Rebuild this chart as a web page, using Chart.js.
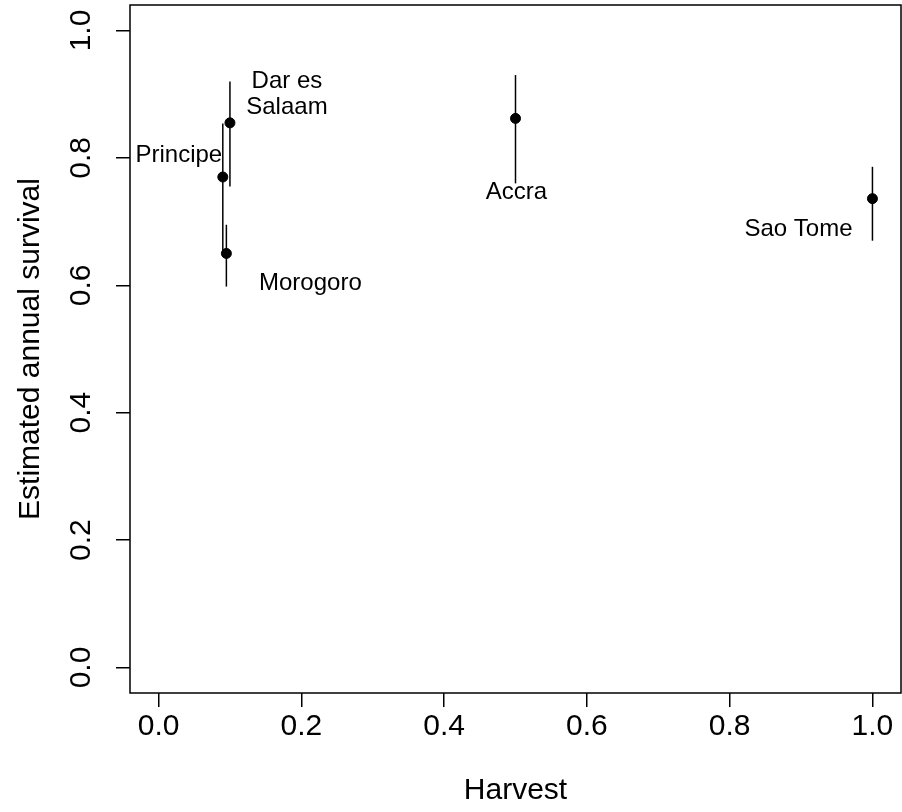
<!DOCTYPE html>
<html>
<head>
<meta charset="utf-8">
<script src="https://cdn.jsdelivr.net/npm/chart.js@4"></script>
<style>
  html, body { margin: 0; padding: 0; background: #fff; }
  canvas { display: block; }
</style>
</head>
<body>
<canvas id="chart" width="902" height="812"></canvas>
<script>
// sites, harvest level, survival estimate and its interval
const sites = ["Dar es Salaam", "Principe", "Morogoro", "Accra", "Sao Tome"];
const harvest = [0.1, 0.09, 0.095, 0.5, 1.0];
const survival = [0.855, 0.77, 0.65, 0.862, 0.736];
const lower = [0.755, 0.645, 0.598, 0.76, 0.67];
const upper = [0.92, 0.854, 0.695, 0.93, 0.786];

const xTicks = [0, 0.2, 0.4, 0.6, 0.8, 1.0];
const yTicks = [0, 0.2, 0.4, 0.6, 0.8, 1.0];

const FONT = "'Liberation Sans', Arial, Helvetica, sans-serif";

// label offsets from each point (px), one entry per line of text
const labelPos = {
    "Dar es Salaam": [{ t: "Dar es", dx: 57, dy: -41 }, { t: "Salaam", dx: 57, dy: -15 }],
    "Principe": [{ t: "Principe", dx: -44, dy: -22 }],
    "Morogoro": [{ t: "Morogoro", dx: 84, dy: 30 }],
    "Accra": [{ t: "Accra", dx: 1, dy: 74 }],
    "Sao Tome": [{ t: "Sao Tome", dx: -74, dy: 31 }],
};

const rPlot = {
    id: "rPlot",
    beforeDatasetsDraw(chart) {
        const { ctx, scales: { x, y } } = chart;
        ctx.save();
        ctx.strokeStyle = "#000";
        ctx.lineWidth = 1.5;
        // error bars
        harvest.forEach((h, i) => {
            const px = x.getPixelForValue(h);
            ctx.beginPath();
            ctx.moveTo(px, y.getPixelForValue(lower[i]));
            ctx.lineTo(px, y.getPixelForValue(upper[i]));
            ctx.stroke();
        });
        ctx.restore();
    },
    afterDraw(chart) {
        const { ctx, chartArea: a, scales: { x, y } } = chart;
        ctx.save();
        // box
        ctx.strokeStyle = "#000";
        ctx.lineWidth = 1.5;
        ctx.strokeRect(a.left, a.top, a.right - a.left, a.bottom - a.top);

        // y tick labels, rotated like R's default
        ctx.fillStyle = "#000";
        ctx.font = "30px " + FONT;
        ctx.textAlign = "center";
        ctx.textBaseline = "middle";
        yTicks.forEach(v => {
            ctx.save();
            ctx.translate(82, y.getPixelForValue(v));
            ctx.rotate(-Math.PI / 2);
            ctx.fillText(v.toFixed(1), 0, 0);
            ctx.restore();
        });

        // site labels
        ctx.font = "24px " + FONT;
        sites.forEach((s, i) => {
            const px = x.getPixelForValue(harvest[i]);
            const py = y.getPixelForValue(survival[i]);
            labelPos[s].forEach(l => ctx.fillText(l.t, px + l.dx, py + l.dy));
        });
        ctx.restore();
    },
};

const chart = new Chart(document.getElementById("chart"), {
    type: "scatter",
    data: {
        datasets: [{
            data: harvest.map((h, i) => ({ x: h, y: survival[i] })),
            backgroundColor: "#000",
            borderColor: "#000",
            pointRadius: 5,
            pointHoverRadius: 5,
        }],
    },
    options: {
        responsive: false,
        animation: false,
        layout: { padding: { top: 5, right: 1, left: 0, bottom: 0 } },
        plugins: { legend: { display: false }, tooltip: { enabled: false } },
        scales: {
            x: {
                type: "linear",
                min: -0.04,
                max: 1.04,
                afterBuildTicks: s => { s.ticks = xTicks.map(v => ({ value: v })); },
                afterFit: s => { s.height = 119; s.paddingLeft = 0; s.paddingRight = 0; },
                border: { display: false },
                grid: { drawOnChartArea: false, drawTicks: true, tickLength: 14, color: "#000", lineWidth: 1.5 },
                ticks: {
                    color: "#000",
                    padding: 2,
                    maxRotation: 0,
                    font: { family: FONT, size: 30 },
                    callback: v => v.toFixed(1),
                },
                title: {
                    display: true,
                    text: "Harvest",
                    color: "#000",
                    font: { family: FONT, size: 30 },
                    padding: { top: 0, bottom: 3 },
                },
            },
            y: {
                type: "linear",
                min: -0.04,
                max: 1.04,
                afterBuildTicks: s => { s.ticks = yTicks.map(v => ({ value: v })); },
                afterFit: s => { s.width = 130; s.paddingTop = 0; s.paddingBottom = 0; },
                border: { display: false },
                grid: { drawOnChartArea: false, drawTicks: true, tickLength: 14, color: "#000", lineWidth: 1.5 },
                ticks: { display: false },
                title: {
                    display: true,
                    text: "Estimated annual survival",
                    color: "#000",
                    font: { family: FONT, size: 30 },
                    padding: { top: 13, bottom: 0 },
                },
            },
        },
    },
    plugins: [rPlot],
});

// the plot box runs to the canvas edge, so don't reserve room for the dots
chart.getDatasetMeta(0).controller.getMaxOverflow = () => 0;
chart.update();
</script>
</body>
</html>
